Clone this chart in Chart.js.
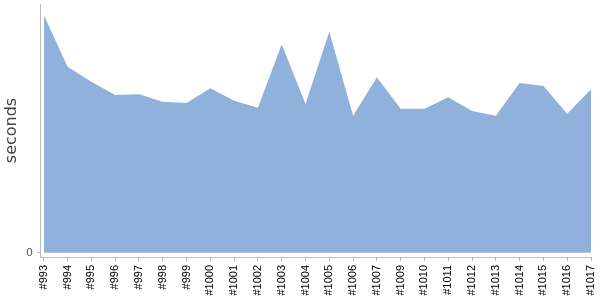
<!DOCTYPE html>
<html>
<head>
<meta charset="utf-8">
<script src="https://cdn.jsdelivr.net/npm/chart.js@4/dist/chart.umd.min.js"></script>
<style>
  html, body { margin: 0; padding: 0; background: #fff; }
  #wrap { width: 600px; height: 300px; }
</style>
</head>
<body>
<div id="wrap"><canvas id="runChart" width="600" height="300"></canvas></div>
<script>
const builds = [
  "#993", "#994", "#995", "#996", "#997", "#998", "#999", "#1000",
  "#1001", "#1002", "#1003", "#1004", "#1005", "#1006", "#1007", "#1009",
  "#1010", "#1011", "#1012", "#1013", "#1014", "#1015", "#1016", "#1017"
];
const durations = [
  237.7, 186, 171, 157.7, 158.4, 151, 149.7, 164.4,
  152, 145, 208.4, 148.7, 221, 137, 175.4, 144,
  144, 155.4, 141.7, 137, 169.7, 166.7, 139, 163.4
];
const yTicks = [0];
const yMin = -4.3;
const yMax = 248.7;

const axisGrey = "#bbbbbb";

const ctx = document.getElementById("runChart").getContext("2d");

new Chart(ctx, {
  type: "line",
  data: {
    datasets: [
      {
        label: "seconds",
        data: durations.map((v, i) => ({ x: i, y: v })),
        fill: "origin",
        backgroundColor: "rgb(143, 177, 219)",
        borderColor: "rgb(143, 177, 219)",
        borderWidth: 0,
        pointRadius: 0,
        tension: 0,
      },
    ],
  },
  options: {
    responsive: false,
    animation: false,
    layout: {
      padding: { top: 4, right: 9, bottom: 0, left: 0 },
    },
    scales: {
      x: {
        type: "linear",
        min: -0.16,
        max: builds.length - 1,
        afterBuildTicks: (axis) => {
          axis.ticks = builds.map((_, i) => ({ value: i }));
        },
        afterFit: (axis) => {
          axis.height = 43;
          axis.paddingLeft = 0;
          axis.paddingRight = 0;
        },
        ticks: {
          autoSkip: false,
          minRotation: 90,
          maxRotation: 90,
          padding: 4,
          color: "#000",
          font: { family: "Liberation Sans", size: 11 },
          callback: (value) => builds[value] || "",
        },
        grid: {
          drawOnChartArea: false,
          color: axisGrey,
          tickLength: 4,
        },
        border: { color: axisGrey },
      },
      y: {
        min: yMin,
        max: yMax,
        afterBuildTicks: (axis) => {
          axis.ticks = yTicks.map((v) => ({ value: v }));
        },
        afterFit: (axis) => {
          axis.width = 40;
          axis.paddingTop = 0;
          axis.paddingBottom = 0;
        },
        ticks: {
          padding: 4,
          color: "#555",
          font: { family: "DejaVu Sans", size: 11 },
        },
        grid: {
          drawOnChartArea: false,
          color: axisGrey,
          tickLength: 3,
        },
        border: { color: axisGrey },
        title: {
          display: true,
          text: "seconds",
          color: "#444",
          font: { family: "DejaVu Sans", size: 16 },
          padding: { top: 2, bottom: 0 },
        },
      },
    },
    plugins: {
      legend: { display: false },
      tooltip: { enabled: false },
    },
  },
});
</script>
</body>
</html>
